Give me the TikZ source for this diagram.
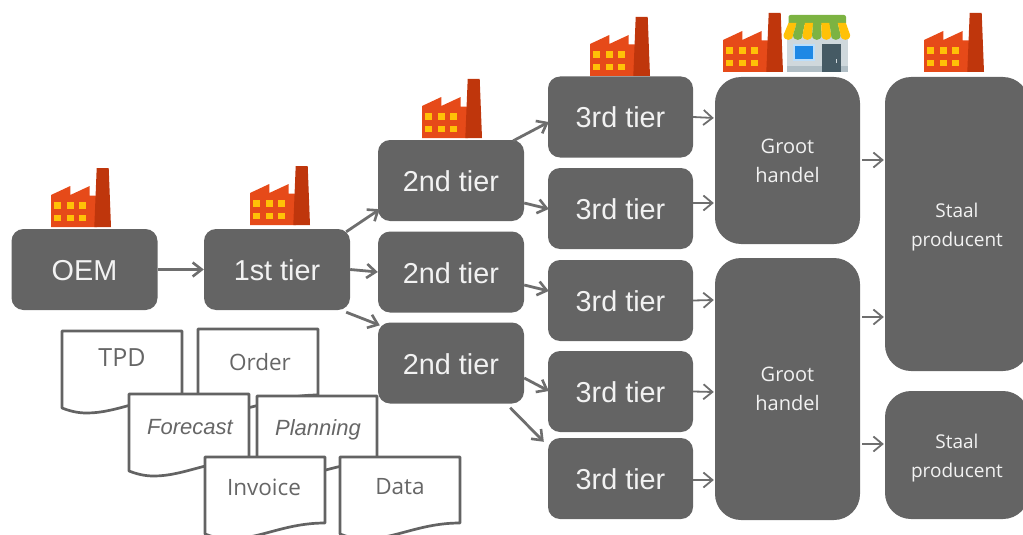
\documentclass[tikz,border=0pt]{standalone}
\usepackage{fontspec}
\setmainfont{Liberation Sans}
\newfontfamily\openf{Open Sans}
\definecolor{boxfill}{HTML}{646464}
\definecolor{arrowcol}{HTML}{6E6E6E}
\definecolor{doccol}{HTML}{636363}
\definecolor{doctext}{HTML}{666666}
\definecolor{facbody}{HTML}{E64A19}
\definecolor{facchim}{HTML}{BF360C}
\definecolor{winy}{HTML}{FFC107}
\definecolor{shopwall}{HTML}{CFD8DC}
\definecolor{shopband}{HTML}{B0BEC5}
\definecolor{shopgreen}{HTML}{7CB342}
\definecolor{shopblue}{HTML}{1E88E5}
\definecolor{shopframe}{HTML}{BBDEFB}
\definecolor{shopdoor}{HTML}{455A64}
\usetikzlibrary{arrows.meta,calc}
\tikzset{
  x=1pt,y=-1pt,
  basebox/.style={draw=none,fill=boxfill,inner sep=0pt,text=white!95!black,align=center},
  tierbox/.style={basebox,rounded corners=12,font=\fontsize{28.8}{30}\selectfont,text height=22pt,text depth=0pt},
  bigbox/.style={basebox,rounded corners=26,font=\openf\fontsize{20}{29}\selectfont},
  staalbox/.style={basebox,rounded corners=26,font=\openf\fontsize{19}{28.5}\selectfont},
  flow/.style={draw=arrowcol,line width=2.8pt,-{Straight Barb[length=9pt,width=14pt,line width=2.6pt]}},
  thinflow/.style={draw=arrowcol,line width=1.8pt,-{Straight Barb[length=9pt,width=15pt,line width=1.8pt]}},
  docshape/.style={draw=doccol,fill=white,line width=2.7pt,line join=round},
  doclabel/.style={text=doctext,inner sep=0pt,font=\openf\fontsize{22.5}{24}\selectfont},
  docital/.style={text=doctext,inner sep=0pt,font=\itshape\fontsize{22}{24}\selectfont},
  factory/.pic={
    \fill[facbody] (0,0) -- (0,-32) -- (19.3,-41) -- (19.3,-32) -- (38.7,-41) -- (38.7,-31.5) -- (46,-31.5) -- (46,0) -- cycle;
    \fill[facchim] (43.3,0) -- (45.7,-59) -- (57.7,-59) -- (60,0) -- cycle;
    \foreach \wx in {6.7,19.3,31.7}{\foreach \wy in {9,21.7}{
      \fill[winy] (\wx-3.4,-\wy-3.4) rectangle (\wx+3.4,-\wy+3.4);}}
  },
  shop/.pic={
    \fill[shopwall] (3,20) rectangle (64,57);
    \fill[shopband] (3,51) rectangle (64,57);
    \fill[shopframe] (9,29) rectangle (31,46);
    \fill[shopblue] (11,31) rectangle (29,44);
    \fill[shopdoor] (38.5,29) rectangle (57,57);
    \fill[shopwall] (52.5,44) rectangle (53.3,48);
    \fill[shopgreen,rounded corners=2] (5,0) rectangle (62.5,10);
    \foreach \i/\c in {0/winy,1/shopgreen,2/winy,3/shopgreen,4/winy,5/shopgreen,6/winy}{
      \fill[\c] ({5+8.2*\i},8) -- ({5+8.2*(\i+1)},8)
        -- ({9.52*(\i+1)},20) .. controls ({9.52*(\i+1)},26.5) and ({9.52*\i},26.5) .. ({9.52*\i},20) -- cycle;
    }
  },
}
\newcommand{\paperdoc}[3]{% x, top y, name
  \path[docshape] (#1,#2) -- (#1+120,#2) -- (#1+120,#2+66)
    .. controls (#1+80,#2+66) and (#1+55,#2+82) .. (#1+25,#2+82)
    .. controls (#1+15,#2+82) and (#1+8,#2+80) .. (#1,#2+77) -- cycle;
  \coordinate (#3) at (#1+60,#2);
}
\begin{document}
\begin{tikzpicture}
\useasboundingbox (0,0) rectangle (1023,535);

% paper documents
\paperdoc{62}{331}{docA}
\node[doclabel,font=\openf\fontsize{25}{27}\selectfont] (tTPD) at (122,358) {TPD};
\paperdoc{198}{329}{docB}
\node[doclabel] (tOrder) at (260,362) {Order};
\paperdoc{129}{394}{docC}
\node[docital] (tForecast) at (190,427) {Forecast};
\paperdoc{257}{396}{docD}
\node[docital] (tPlanning) at (318,430) {Planning};
\paperdoc{205}{457}{docE}
\node[doclabel] (tInvoice) at (264,487) {Invoice};
\paperdoc{340}{457}{docF}
\node[doclabel] (tData) at (400,487) {Data};

% boxes
\node[tierbox,minimum width=146pt,minimum height=81pt] (oem) at (84.5,269.5) {OEM};
\node[tierbox,minimum width=146pt,minimum height=81pt] (t1) at (277,269.5) {1st tier};
\node[tierbox,minimum width=146pt,minimum height=81pt] (t2a) at (451,180.5) {2nd tier};
\node[tierbox,minimum width=146pt,minimum height=81pt] (t2b) at (451,272) {2nd tier};
\node[tierbox,minimum width=146pt,minimum height=81pt] (t2c) at (451,363) {2nd tier};
\node[tierbox,minimum width=145pt,minimum height=81pt] (t3a) at (620.5,117) {3rd tier};
\node[tierbox,minimum width=145pt,minimum height=81pt] (t3b) at (620.5,208.5) {3rd tier};
\node[tierbox,minimum width=145pt,minimum height=81pt] (t3c) at (620.5,300.5) {3rd tier};
\node[tierbox,minimum width=145pt,minimum height=81pt] (t3d) at (620.5,391.5) {3rd tier};
\node[tierbox,minimum width=145pt,minimum height=81pt] (t3e) at (620.5,478.5) {3rd tier};
\node[bigbox,minimum width=145pt,minimum height=167pt] (gA) at (787.5,160.5) {Groot\\handel};
\node[bigbox,minimum width=145pt,minimum height=262pt] (gB) at (787.5,389) {Groot\\handel};
\node[staalbox,minimum width=144pt,minimum height=294pt] (sA) at (957,224) {\rule{0pt}{20.5pt}Staal\\producent};
\node[staalbox,minimum width=144pt,minimum height=128pt] (sB) at (957,455) {\rule{0pt}{20.5pt}Staal\\producent};

% connectors
\draw[flow] (oem.east) -- (t1.west);
\draw[flow] ([shift={(-4,3)}]t1.north east) -- ([shift={(2,-12)}]t2a.south west);
\draw[flow] (t1.east) -- (t2b.west);
\draw[flow] ([shift={(-4,2)}]t1.south east) -- ([shift={(2,3)}]t2c.north west);
\draw[flow] ([shift={(-11,1)}]t2a.north east) -- ([shift={(1,5)}]t3a.west);
\draw[flow] ([shift={(0,22.5)}]t2a.east) -- ([shift={(1,0.5)}]t3b.west);
\draw[flow] ([shift={(0,13)}]t2b.east) -- ([shift={(1,-9.5)}]t3c.west);
\draw[flow] ([shift={(0,15)}]t2c.east) -- ([shift={(1,-0.5)}]t3d.west);
\draw[flow] ([shift={(-14,4)}]t2c.south east) -- ([shift={(-4,4)}]t3e.north west);
\draw[thinflow] (t3a.east) -- ([shift={(-1,-42.5)}]gA.west);
\draw[thinflow] ([shift={(0,-5.5)}]t3b.east) -- ([shift={(-1,42.5)}]gA.west);
\draw[thinflow] (t3c.east) -- ([shift={(-1,-89)}]gB.west);
\draw[thinflow] (t3d.east) -- ([shift={(-1,3)}]gB.west);
\draw[thinflow] ([shift={(0,1.5)}]t3e.east) -- ([shift={(-1,91)}]gB.west);
\draw[thinflow] ([shift={(2,-0.5)}]gA.east) -- ([shift={(-1,-64)}]sA.west);
\draw[thinflow] ([shift={(2,-72)}]gB.east) -- ([shift={(-1,93)}]sA.west);
\draw[thinflow] ([shift={(2,55)}]gB.east) -- ([shift={(-1,-11)}]sB.west);

% icons
\pic at (51,227) {factory};
\pic at (250,225) {factory};
\pic at (422,138) {factory};
\pic at (590,76) {factory};
\pic at (723,72) {factory};
\pic at (924,72) {factory};
\pic at (783.5,15) {shop};
\end{tikzpicture}
\end{document}
